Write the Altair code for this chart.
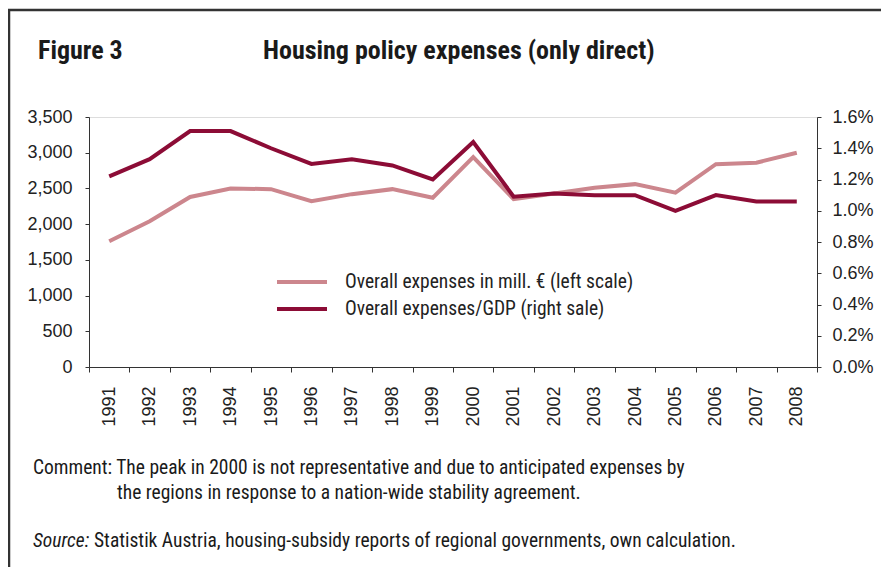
import altair as alt
import pandas as pd

years = [str(y) for y in range(1991, 2009)]
eur_mill = [1760, 2040, 2380, 2500, 2490, 2320, 2420, 2490, 2370, 2940,
            2350, 2430, 2510, 2560, 2440, 2840, 2860, 3000]
gdp_share = [0.0122, 0.0133, 0.0151, 0.0151, 0.0140, 0.0130, 0.0133, 0.0129, 0.0120, 0.0144,
             0.0109, 0.0111, 0.0110, 0.0110, 0.0100, 0.0110, 0.0106, 0.0106]
series_names = ["Overall expenses in mill. € (left scale)",
                "Overall expenses/GDP (right sale)"]
series_colors = ["#cc868d", "#8c0c36"]

FONT = "Liberation Sans Narrow, Roboto Condensed, DejaVu Sans Condensed, sans-serif"
AXFONT = "Liberation Sans, Arial, sans-serif"

df_eur = pd.DataFrame({"year": years, "value": eur_mill, "series": series_names[0]})
df_gdp = pd.DataFrame({"year": years, "value": gdp_share, "series": series_names[1]})

x_enc = alt.X("year:O", scale=alt.Scale(type="band", paddingInner=0, paddingOuter=0),
              axis=alt.Axis(title=None, labelAngle=-90, tickBand="extent", tickSize=5,
                            labelPadding=14, labelFont=AXFONT, labelFontSize=18,
                            labelColor="#222", domainColor="#333", tickColor="#333",
                            grid=False))

color_enc = alt.Color("series:N", title=None,
                      scale=alt.Scale(domain=series_names, range=series_colors),
                      legend=alt.Legend(orient="none", legendX=186, legendY=154,
                                        symbolType="stroke", symbolSize=2500,
                                        symbolStrokeWidth=4, labelFont=FONT,
                                        labelFontSize=19.5, labelColor="#222",
                                        labelOffset=16, clipHeight=22, rowPadding=5,
                                        padding=0, labelLimit=400))

left = alt.Chart(df_eur).mark_line(strokeWidth=4).encode(
    x=x_enc,
    y=alt.Y("value:Q", scale=alt.Scale(domain=[0, 3500]),
            axis=alt.Axis(title=None, orient="left", values=list(range(0, 3501, 500)),
                          format=",.0f", tickSize=4, labelPadding=13, labelFont=AXFONT,
                          labelFontSize=18, labelColor="#222", domainColor="#333",
                          tickColor="#333", grid=False)),
    color=color_enc,
)

right = alt.Chart(df_gdp).mark_line(strokeWidth=4).encode(
    x=x_enc,
    y=alt.Y("value:Q", scale=alt.Scale(domain=[0, 0.016]),
            axis=alt.Axis(title=None, orient="right",
                          values=[0, 0.002, 0.004, 0.006, 0.008, 0.010, 0.012, 0.014, 0.016],
                          format=".1%", tickSize=4, labelPadding=11, labelFont=AXFONT,
                          labelFontSize=18, labelColor="#222", domainColor="#333",
                          tickColor="#333", grid=False)),
    color=color_enc,
)

one = alt.Data(values=[{"k": 1}])

border_top = alt.Chart(one).mark_rule(color="#333", strokeWidth=2.5).encode(
    x=alt.value(-81), x2=alt.value(820), y=alt.value(-107))
border_left = alt.Chart(one).mark_rule(color="#333", strokeWidth=2.5).encode(
    x=alt.value(-80), y=alt.value(-107), y2=alt.value(470))

def txt(s, x, y, size=19.5, weight="normal", style="normal"):
    return alt.Chart(one).mark_text(text=s, align="left", baseline="alphabetic",
                                    font=FONT, fontSize=size, fontWeight=weight,
                                    fontStyle=style, color="#1a1a1a").encode(
        x=alt.value(x), y=alt.value(y))

texts = [
    txt("Figure 3", -51, -58, size=26, weight="bold"),
    txt("Housing policy expenses (only direct)", 174, -58, size=26, weight="bold"),
    txt("Comment: The peak in 2000 is not representative and due to anticipated expenses by", -56, 357),
    txt("the regions in response to a nation-wide stability agreement.", 28, 382),
    txt("Source:", -56, 430, style="italic"),
    txt("Statistik Austria, housing-subsidy reports of regional governments, own calculation.", 5, 430),
]

chart = alt.layer(left, right, border_top, border_left, *texts).resolve_scale(
    y="independent"
).properties(
    width=728, height=250,
    autosize=alt.AutoSizeParams(type="none"),
    padding={"left": 81, "top": 109, "right": 64, "bottom": 200},
).configure_view(stroke="#333", strokeWidth=1).configure(background="white")

chart.save("out.html", embed_options={"renderer": "svg", "actions": False})
